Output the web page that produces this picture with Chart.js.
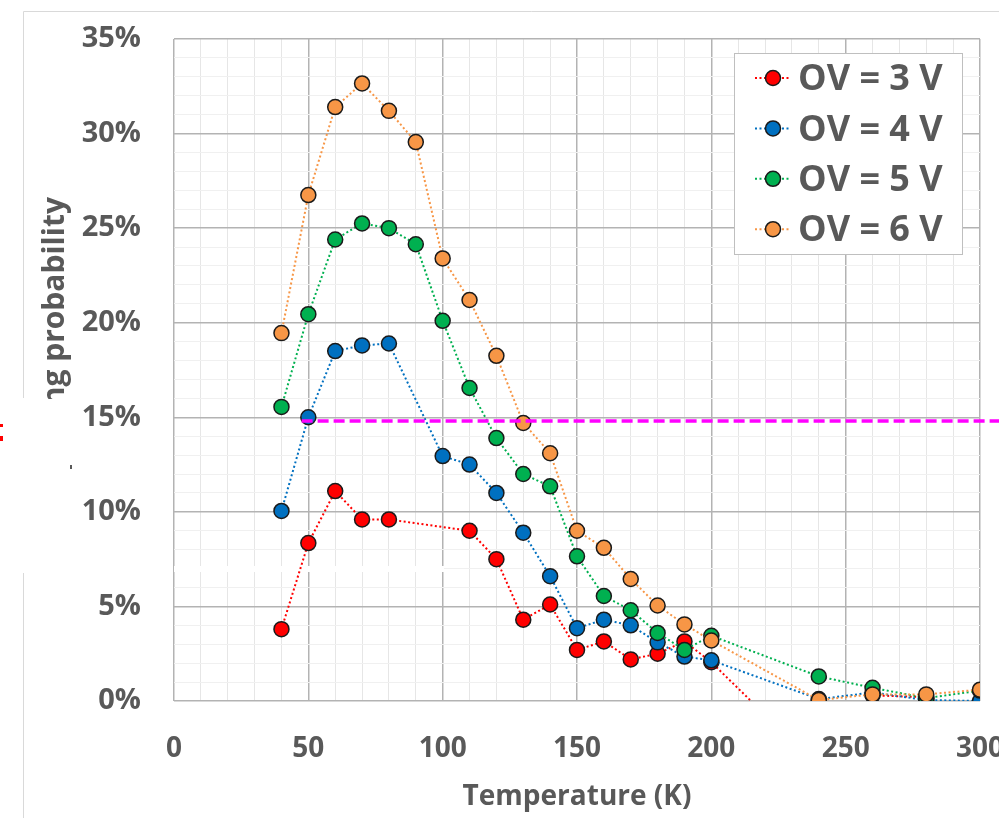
<!DOCTYPE html>
<html>
<head>
<meta charset="utf-8">
<script src="https://cdn.jsdelivr.net/npm/chart.js@4.4.1/dist/chart.umd.min.js"></script>
<style>
  html, body { margin: 0; padding: 0; background: #fff; overflow: hidden; }
  #wrap { position: relative; width: 999px; height: 818px; overflow: hidden; }
  #chart { position: absolute; left: 0; top: 0; }
</style>
</head>
<body>
<div id="wrap"><canvas id="chart" width="1040" height="818"></canvas></div>
<script>
// ============ DATA ============
const temps = [40, 50, 60, 70, 80, 90, 100, 110, 120, 130, 140, 150, 160, 170, 180, 190, 200, 240, 260, 280, 300];

const ov3 = [3.8, 8.35, 11.1, 9.6, 9.6, null, null, 9.0, 7.5, 4.3, 5.1, 2.7, 3.15, 2.2, 2.5, 3.15, 2.05, -3.5, 0.3, 0.2, null];
const ov4 = [10.05, 15.0, 18.5, 18.8, 18.9, null, 12.95, 12.5, 11.0, 8.9, 6.6, 3.85, 4.3, 4.0, 3.1, 2.35, 2.15, 0.1, 0.45, 0.05, 0.0];
const ov5 = [15.55, 20.45, 24.4, 25.25, 25.0, 24.15, 20.1, 16.55, 13.9, 12.0, 11.35, 7.65, 5.55, 4.8, 3.6, 2.7, 3.45, 1.3, 0.7, 0.15, 0.55];
const ov6 = [19.45, 26.75, 31.4, 32.65, 31.2, 29.55, 23.4, 21.2, 18.25, 14.7, 13.1, 9.0, 8.1, 6.45, 5.05, 4.05, 3.2, 0.05, 0.35, 0.35, 0.6];

const seriesLabels = ['OV = 3 V', 'OV = 4 V', 'OV = 5 V', 'OV = 6 V'];
const seriesColors = ['#FF0000', '#0070C0', '#00B050', '#F79646'];

// dashed threshold line
const thresholdX = [47.5, 318];
const thresholdY = 14.8;

const xTicks = [0, 50, 100, 150, 200, 250, 300];
const yTicks = [0, 5, 10, 15, 20, 25, 30, 35];

const TEXT = '#595959';
const FONT = "'Open Sans', 'DejaVu Sans', sans-serif";

function pts(ys) {
  return temps.map((t, i) => ({ x: t, y: ys[i] }));
}

function series(i, ys) {
  return {
    label: seriesLabels[i],
    data: pts(ys),
    borderColor: seriesColors[i],
    backgroundColor: seriesColors[i],
    pointBackgroundColor: seriesColors[i],
    pointBorderColor: '#1a1a1a',
    pointBorderWidth: 1.5,
    pointRadius: 7.5,
    borderWidth: 2,
    borderDash: [2, 2.5],
    spanGaps: true,
    order: 4 - i
  };
}

// ============ PLUGINS ============
const decorations = {
  id: 'decorations',
  beforeDatasetsDraw(chart) {
    const c = chart.ctx;
    c.save();
    // white band left by the pasted patch
    c.fillStyle = '#fff';
    c.fillRect(174, 566, 270, 6);
    c.restore();
  },
  afterDraw(chart) {
    const c = chart.ctx;
    c.save();
    // outer frame pieces
    c.strokeStyle = '#D9D9D9';
    c.lineWidth = 1;
    c.beginPath();
    c.moveTo(23.5, 818); c.lineTo(23.5, 573);
    c.moveTo(23.5, 398); c.lineTo(23.5, 11.5); c.lineTo(1040, 11.5);
    c.stroke();

    // cropped y title
    c.beginPath();
    c.rect(0, 0, 120, 399);
    c.clip();
    c.translate(64, 197);
    c.rotate(-Math.PI / 2);
    c.fillStyle = TEXT;
    c.font = 'bold 30px ' + FONT;
    c.textAlign = 'right';
    c.textBaseline = 'alphabetic';
    c.fillText('ng probability', 0, 0);
    c.restore();

    // stray fragments at the left edge
    c.save();
    c.fillStyle = '#FF0000';
    c.fillRect(0, 424, 3, 3);
    c.fillRect(0, 436, 3, 5);
    c.fillStyle = '#595959';
    c.fillRect(70, 465, 2, 4);
    c.restore();

    // legend box
    const bx = 734, by = 53, bw = 228, bh = 201;
    c.save();
    c.fillStyle = '#fff';
    c.fillRect(bx, by, bw, bh);
    c.strokeStyle = '#BFBFBF';
    c.lineWidth = 1;
    c.strokeRect(bx + 0.5, by + 0.5, bw, bh);
    c.font = 'bold 36px ' + FONT;
    c.textBaseline = 'middle';
    c.textAlign = 'left';
    chart.data.datasets.slice(0, 4).forEach((ds, i) => {
      const y = 78 + i * 50.4;
      c.setLineDash([2, 2.5]);
      c.strokeStyle = ds.borderColor;
      c.lineWidth = 2;
      c.beginPath();
      c.moveTo(755, y); c.lineTo(791, y);
      c.stroke();
      c.setLineDash([]);
      c.beginPath();
      c.arc(773, y, 7.5, 0, Math.PI * 2);
      c.fillStyle = ds.backgroundColor;
      c.fill();
      c.lineWidth = 1.5;
      c.strokeStyle = '#1a1a1a';
      c.stroke();
      c.fillStyle = TEXT;
      c.fillText(ds.label, 798, y + 2);
    });
    c.restore();
  }
};

// ============ CHART ============
function initChart() {
  const ctx = document.getElementById('chart').getContext('2d');
  const datasets = [series(0, ov3), series(1, ov4), series(2, ov5), series(3, ov6)];
  datasets.push({
    label: 'threshold',
    data: thresholdX.map(x => ({ x: x, y: thresholdY })),
    borderColor: '#FF00FF',
    borderWidth: 3.5,
    borderDash: [11, 5],
    pointRadius: 0,
    clip: false,
    order: 0
  });

  window.chartInstance = new Chart(ctx, {
    type: 'line',
    data: { datasets: datasets },
    options: {
      responsive: false,
      animation: false,
      events: [],
      layout: { autoPadding: false, padding: { top: 39, right: 60, bottom: 0, left: 0 } },
      plugins: { legend: { display: false }, tooltip: { enabled: false } },
      scales: {
        x: {
          type: 'linear',
          min: 0,
          max: 300,
          afterFit(scale) { scale.height = 117; },
          ticks: {
            stepSize: 10,
            autoSkip: false,
            maxRotation: 0,
            padding: 31,
            color: TEXT,
            font: { family: FONT, size: 28, weight: 'bold' },
            callback: v => (xTicks.includes(v) ? String(v) : '')
          },
          grid: {
            drawTicks: false,
            color: c => (c.tick && c.tick.value % 50 === 0 ? '#B3B3B3' : '#E6E6E6'),
            lineWidth: c => (c.tick && c.tick.value % 50 === 0 ? 1.5 : 1)
          },
          border: { display: false },
          title: {
            display: true,
            text: 'Temperature (K)',
            color: TEXT,
            font: { family: FONT, size: 28, weight: 'bold' },
            padding: { top: 0, bottom: 4 }
          }
        },
        y: {
          min: 0,
          max: 35,
          afterFit(scale) {
            scale.width = 174;
            scale.paddingTop = 0;
            scale.paddingBottom = 0;
          },
          ticks: {
            stepSize: 1,
            autoSkip: false,
            padding: 33,
            color: TEXT,
            font: { family: FONT, size: 29, weight: 'bold' },
            callback: v => (yTicks.includes(v) ? v + '%' : '')
          },
          grid: {
            drawTicks: false,
            color: c => (c.tick && c.tick.value % 5 === 0 ? '#B3B3B3' : '#F0F0F0'),
            lineWidth: c => (c.tick && c.tick.value % 5 === 0 ? 1.5 : 1)
          },
          border: { display: false }
        }
      }
    },
    plugins: [decorations]
  });
}

document.addEventListener('DOMContentLoaded', initChart);
</script>
</body>
</html>
